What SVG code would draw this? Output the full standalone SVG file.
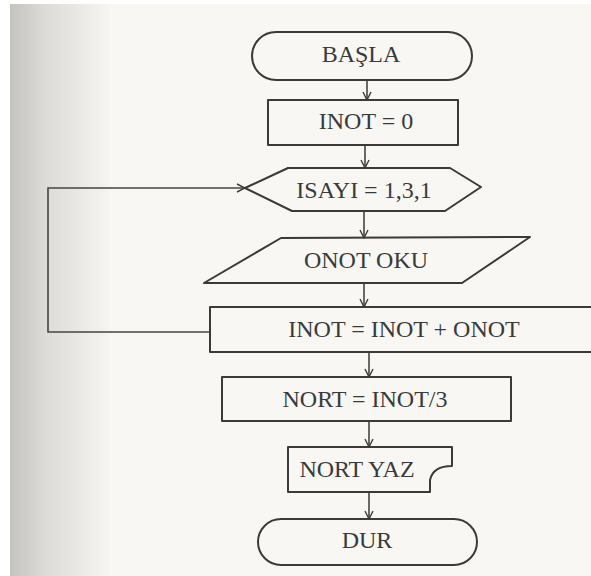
<svg xmlns="http://www.w3.org/2000/svg" width="591" height="576" viewBox="0 0 591 576">
  <defs>
    <linearGradient id="pageShade" x1="0" y1="0" x2="1" y2="0">
      <stop offset="0" stop-color="#c4c3c0"/>
      <stop offset="0.35" stop-color="#dcdbd8"/>
      <stop offset="1" stop-color="#f6f5f2"/>
    </linearGradient>
    <marker id="arrow" viewBox="0 0 10 10" refX="9" refY="5" markerWidth="10" markerHeight="10" markerUnits="userSpaceOnUse" orient="auto">
      <path d="M1,1 L9,5 L1,9" fill="none" stroke="#3c3c3c" stroke-width="1.4"/>
    </marker>
    <style>
      .shape { fill: none; stroke: #3a3a3a; stroke-width: 2; stroke-linejoin: round; }
      .link { fill: none; stroke: #444; stroke-width: 1.6; }
      .label { font-family: "Liberation Serif", "Times New Roman", serif; font-size: 24px; fill: #3a3a3a; text-anchor: middle; }
    </style>
  </defs>

  <!-- page background with shaded binding edge -->
  <rect x="0" y="0" width="591" height="576" fill="#f8f7f3"/>
  <rect x="10" y="4" width="100" height="572" fill="url(#pageShade)"/>
  <rect x="0" y="0" width="10" height="576" fill="#ffffff"/>
  <rect x="0" y="0" width="591" height="4" fill="#ffffff"/>

  <g id="connectors">
    <line class="link" x1="367" y1="80" x2="367" y2="100" marker-end="url(#arrow)"/>
    <line class="link" x1="365" y1="145" x2="365" y2="168" marker-end="url(#arrow)"/>
    <line class="link" x1="364" y1="211" x2="364" y2="238" marker-end="url(#arrow)"/>
    <line class="link" x1="364" y1="283" x2="364" y2="307" marker-end="url(#arrow)"/>
    <line class="link" x1="369" y1="352" x2="369" y2="377" marker-end="url(#arrow)"/>
    <line class="link" x1="369" y1="421" x2="369" y2="447" marker-end="url(#arrow)"/>
    <line class="link" x1="369" y1="492" x2="369" y2="519" marker-end="url(#arrow)"/>
    <!-- loop back from the sum step to the loop header -->
    <polyline class="link" points="210,332 48,332 48,188 245,188" marker-end="url(#arrow)"/>
  </g>

  <g id="start">
    <rect class="shape" x="252" y="32" width="220" height="48" rx="24" ry="24"/>
    <text class="label" x="361" y="62">BAŞLA</text>
  </g>

  <g id="init">
    <rect class="shape" x="268" y="100" width="190" height="45"/>
    <text class="label" x="366" y="129">INOT = 0</text>
  </g>

  <g id="loop">
    <polygon class="shape" points="245,188 288,168 450,168 481,187 445,211 292,211"/>
    <text class="label" x="364" y="198">ISAYI = 1,3,1</text>
  </g>

  <g id="read">
    <polygon class="shape" points="281,238 530,237 462,283 204,283"/>
    <text class="label" x="366" y="268">ONOT OKU</text>
  </g>

  <g id="sum">
    <path class="shape" d="M595,307 H210 V352 H595"/>
    <text class="label" x="404" y="337">INOT = INOT + ONOT</text>
  </g>

  <g id="average">
    <rect class="shape" x="222" y="377" width="289" height="44"/>
    <text class="label" x="365" y="407">NORT = INOT/3</text>
  </g>

  <g id="print">
    <path class="shape" d="M288,447 H452 V466 Q433,466 430,480 V492 H288 Z"/>
    <text class="label" x="357" y="477">NORT YAZ</text>
  </g>

  <g id="stop">
    <rect class="shape" x="258" y="519" width="219" height="46" rx="23" ry="23"/>
    <text class="label" x="367" y="548">DUR</text>
  </g>
</svg>
